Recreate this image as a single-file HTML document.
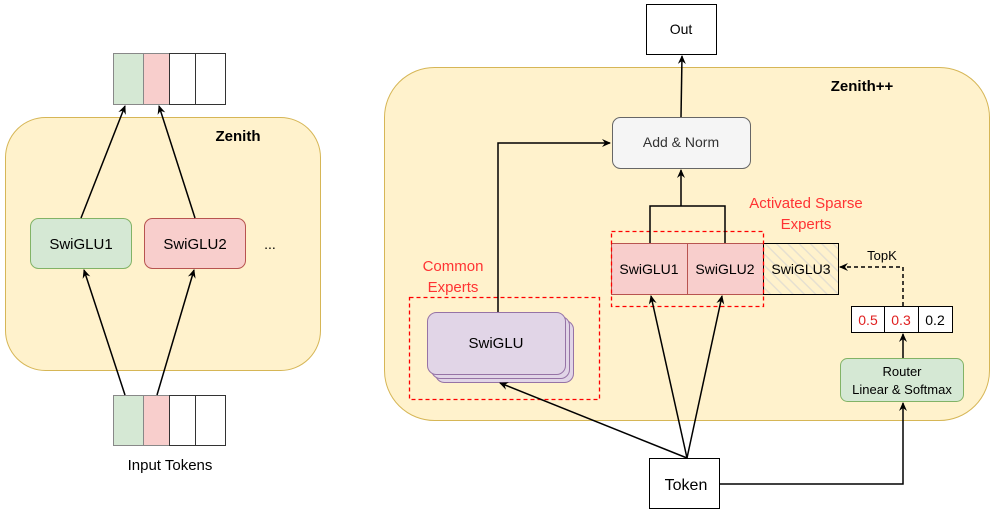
<!DOCTYPE html>
<html><head><meta charset="utf-8"><style>
html,body{margin:0;padding:0;background:#fff;}
svg{display:block;font-family:"Liberation Sans",Arial,sans-serif;}
</style></head><body>
<svg width="996" height="512" viewBox="0 0 996 512" xmlns="http://www.w3.org/2000/svg">
<defs>
<marker id="a" markerWidth="10" markerHeight="10" refX="8" refY="5" orient="auto" markerUnits="userSpaceOnUse">
<path d="M0,1 L9,5 L0,9 L3,5 Z" fill="#000"/></marker>
<pattern id="h" width="8" height="8" patternUnits="userSpaceOnUse" patternTransform="rotate(-45)">
<line x1="0" y1="0" x2="0" y2="8" stroke="#e6e0d0" stroke-width="3"/></pattern>
</defs>
<!-- LEFT -->
<rect x="5.5" y="117.5" width="315" height="253" rx="40" fill="#fff2cc" stroke="#d6b656"/>
<text x="238" y="141" font-size="15" font-weight="bold" text-anchor="middle">Zenith</text>
<g stroke="#333" stroke-width="1">
<rect x="113.5" y="53.5" width="30" height="51" fill="#d5e8d4" stroke="#888"/>
<rect x="143.5" y="53.5" width="26" height="51" fill="#f8cecc" stroke="#888"/>
<rect x="169.5" y="53.5" width="26" height="51" fill="#fff"/>
<rect x="195.5" y="53.5" width="30" height="51" fill="#fff"/>
<rect x="113.5" y="395.5" width="30" height="50" fill="#d5e8d4" stroke="#888"/>
<rect x="143.5" y="395.5" width="26" height="50" fill="#f8cecc" stroke="#888"/>
<rect x="169.5" y="395.5" width="26" height="50" fill="#fff"/>
<rect x="195.5" y="395.5" width="30" height="50" fill="#fff"/>
</g>
<rect x="30.5" y="218.5" width="101" height="50" rx="8" fill="#d5e8d4" stroke="#82b366"/>
<rect x="144.5" y="218.5" width="101" height="50" rx="8" fill="#f8cecc" stroke="#b85450"/>
<text x="81" y="249" font-size="15" text-anchor="middle">SwiGLU1</text>
<text x="195" y="249" font-size="15" text-anchor="middle">SwiGLU2</text>
<text x="270" y="249" font-size="14" text-anchor="middle">...</text>
<text x="170" y="470" font-size="15" text-anchor="middle">Input Tokens</text>
<g stroke="#000" stroke-width="1.5" fill="none" marker-end="url(#a)">
<line x1="125" y1="395" x2="84" y2="270"/>
<line x1="157" y1="395" x2="194" y2="270"/>
<line x1="81" y1="218" x2="125" y2="106"/>
<line x1="195" y1="218" x2="159" y2="106"/>
</g>
<!-- RIGHT -->
<rect x="384.5" y="67.5" width="605" height="353" rx="50" fill="#fff2cc" stroke="#d6b656"/>
<text x="862" y="91" font-size="15" font-weight="bold" text-anchor="middle">Zenith++</text>
<rect x="646.5" y="4.5" width="70" height="50" fill="#fff" stroke="#000"/>
<text x="681" y="34" font-size="14" text-anchor="middle">Out</text>
<rect x="612.5" y="117.5" width="138" height="51" rx="8" fill="#f5f5f5" stroke="#666"/>
<text x="681" y="147" font-size="14" text-anchor="middle" fill="#333">Add &amp; Norm</text>
<rect x="611.5" y="243.5" width="76" height="51" fill="#f8cecc" stroke="#b85450"/>
<rect x="687.5" y="243.5" width="76" height="51" fill="#f8cecc" stroke="#b85450"/>
<rect x="763.5" y="243.5" width="75" height="51" fill="url(#h)" stroke="#000"/>
<text x="649" y="274" font-size="14" text-anchor="middle">SwiGLU1</text>
<text x="725" y="274" font-size="14" text-anchor="middle">SwiGLU2</text>
<text x="801" y="274" font-size="14" text-anchor="middle">SwiGLU3</text>
<rect x="611.5" y="231.5" width="152" height="75" fill="none" stroke="#ff0000" stroke-dasharray="4,3" stroke-width="1.3"/>
<text x="806" y="208" font-size="15" text-anchor="middle" fill="#ff3333">Activated Sparse</text>
<text x="806" y="229" font-size="15" text-anchor="middle" fill="#ff3333">Experts</text>
<text x="882" y="260" font-size="13" text-anchor="middle">TopK</text>
<rect x="851.5" y="306.5" width="33" height="26" fill="#fff" stroke="#000"/>
<rect x="884.5" y="306.5" width="34" height="26" fill="#fff" stroke="#000"/>
<rect x="918.5" y="306.5" width="34" height="26" fill="#fff" stroke="#000"/>
<text x="868" y="325" font-size="14" text-anchor="middle" fill="#e02020">0.5</text>
<text x="901" y="325" font-size="14" text-anchor="middle" fill="#e02020">0.3</text>
<text x="935" y="325" font-size="14" text-anchor="middle">0.2</text>
<rect x="840.5" y="358.5" width="123" height="43" rx="7" fill="#d5e8d4" stroke="#82b366"/>
<text x="902" y="376" font-size="13" text-anchor="middle">Router</text>
<text x="902" y="394" font-size="13" text-anchor="middle">Linear &amp; Softmax</text>
<rect x="409.5" y="297.5" width="190" height="102" fill="none" stroke="#ff0000" stroke-dasharray="4,3" stroke-width="1.3"/>
<text x="453" y="271" font-size="15" text-anchor="middle" fill="#ff3333">Common</text>
<text x="453" y="292" font-size="15" text-anchor="middle" fill="#ff3333">Experts</text>
<rect x="435.5" y="320.5" width="138" height="62" rx="9" fill="#e1d5e7" stroke="#9673a6"/>
<rect x="431.5" y="316.5" width="138" height="62" rx="9" fill="#e1d5e7" stroke="#9673a6"/>
<rect x="427.5" y="312.5" width="138" height="62" rx="9" fill="#e1d5e7" stroke="#9673a6"/>
<text x="496" y="348" font-size="15" text-anchor="middle">SwiGLU</text>
<rect x="649.5" y="458.5" width="70" height="50" fill="#fff" stroke="#000"/>
<text x="686" y="490" font-size="16" text-anchor="middle">Token</text>
<g stroke="#000" stroke-width="1.5" fill="none">
<path d="M650,243 V206 H725 V243"/>
<line x1="681" y1="206" x2="681" y2="170" marker-end="url(#a)"/>
<line x1="681" y1="117" x2="682" y2="56" marker-end="url(#a)"/>
<path d="M498,312 V143 H610" marker-end="url(#a)"/>
<line x1="687" y1="458" x2="500" y2="383" marker-end="url(#a)"/>
<line x1="687" y1="458" x2="651" y2="296" marker-end="url(#a)"/>
<line x1="687" y1="458" x2="722" y2="296" marker-end="url(#a)"/>
<path d="M720,484 H903 V403" marker-end="url(#a)"/>
<line x1="903" y1="358" x2="903" y2="334" marker-end="url(#a)"/>
<path d="M903,306 V267 H840" stroke-dasharray="4,3" marker-end="url(#a)"/>
</g>
</svg>
</body></html>
